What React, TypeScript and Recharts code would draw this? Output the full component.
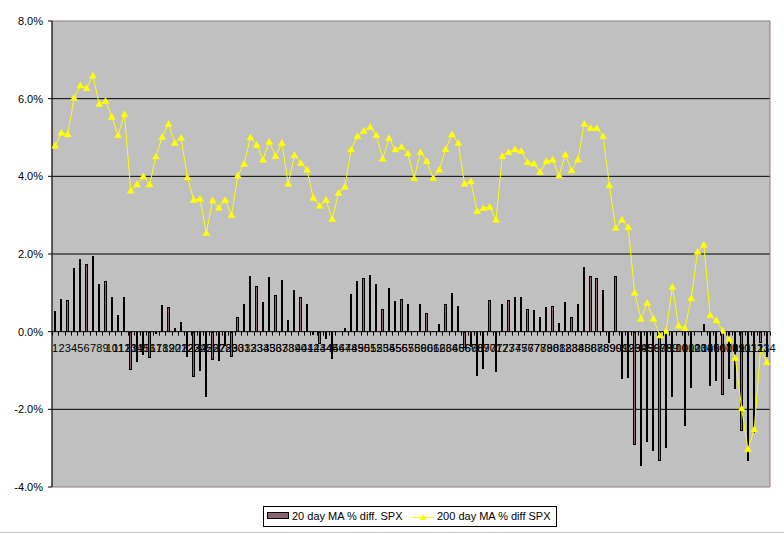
import React from "react";
import {
  ComposedChart,
  Bar,
  Line,
  XAxis,
  YAxis,
  CartesianGrid,
  ReferenceLine,
  ReferenceArea,
} from "recharts";

const categories = Array.from({ length: 114 }, (_, i) => String(i + 1));

const ma20 = [
  0.54, 0.85, 0.82, 1.65, 1.88, 1.73, 1.96, 1.24, 1.31, 0.88,
  0.44, 0.9, -0.98, -0.79, -0.6, -0.69, -0.05, 0.69, 0.64, 0.1,
  0.26, -0.65, -1.18, -1.0, -1.68, -0.74, -0.76, -0.38, -0.66, 0.39,
  0.72, 1.43, 1.18, 0.77, 1.42, 0.95, 1.34, 0.31, 1.08, 0.9,
  0.7, -0.08, -0.31, -0.19, -0.7, -0.04, 0.1, 0.98, 1.31, 1.39,
  1.47, 1.24, 0.58, 1.13, 0.8, 0.85, 0.72, 0.02, 0.72, 0.49,
  0.03, 0.21, 0.7, 1.0, 0.67, -0.41, -0.4, -1.15, -0.96, 0.82,
  -1.05, 0.7, 0.82, 0.9, 0.88, 0.59, 0.57, 0.37, 0.64, 0.67,
  0.23, 0.77, 0.37, 0.7, 1.66, 1.43, 1.39, 1.08, -0.29, 1.44,
  -1.22, -1.2, -2.93, -3.46, -2.84, -3.07, -3.33, -2.99, -1.68, -0.02,
  -2.42, -1.44, 0.0, 0.21, -1.4, -1.27, -1.62, -1.21, -1.47, -2.55,
  -3.32, -2.6, -0.3, -0.64,
];

const ma200 = [
  4.79, 5.12, 5.08, 6.02, 6.34, 6.27, 6.59, 5.86, 5.94, 5.53,
  5.06, 5.6, 3.63, 3.79, 4.0, 3.79, 4.51, 5.01, 5.35, 4.86,
  4.99, 3.97, 3.39, 3.42, 2.54, 3.38, 3.19, 3.39, 3.0, 4.02,
  4.32, 5.0, 4.81, 4.43, 4.89, 4.52, 4.86, 3.81, 4.54, 4.34,
  4.17, 3.44, 3.24, 3.39, 2.9, 3.57, 3.73, 4.69, 5.03, 5.17,
  5.27, 5.06, 4.45, 4.98, 4.69, 4.76, 4.59, 3.95, 4.62, 4.39,
  3.95, 4.17, 4.7, 5.08, 4.86, 3.81, 3.87, 3.1, 3.18, 3.21,
  2.88, 4.52, 4.62, 4.69, 4.65, 4.36, 4.33, 4.11, 4.39, 4.43,
  4.02, 4.56, 4.15, 4.43, 5.35, 5.24, 5.24, 5.03, 3.77, 2.67,
  2.88, 2.69, 1.0, 0.33, 0.74, 0.33, -0.1, 0.01, 1.15, 0.15,
  0.09, 0.86, 2.05, 2.24, 0.42, 0.29, 0.02, -0.19, -0.68, -1.98,
  -3.03, -2.52, -0.45, -0.79,
];

const yTicks = [-4, -2, 0, 2, 4, 6, 8];
const innerGrid = [-2, 2, 4, 6];

const data = categories.map((name, i) => ({
  name,
  ma20: ma20[i],
  ma200: ma200[i],
}));

const MAROON = "#8B6272";
const YELLOW = "#FFFF00";
const PLOT_LEFT = 52;
const PLOT_RIGHT = 770;
const PLOT_TOP = 21;
const PLOT_BOTTOM = 487;
const ZERO_Y = PLOT_TOP + ((PLOT_BOTTOM - PLOT_TOP) * 8) / 12;
const BAND = (PLOT_RIGHT - PLOT_LEFT) / categories.length;
const FONT = '"Liberation Sans", Arial, sans-serif';

// x labels sit on the zero line, like Excel does
function XTick(props: any) {
  const { x, payload, index } = props;
  const left = Math.round(x - BAND / 2) + 0.5;
  const right = Math.round(x + BAND / 2) + 0.5;
  return (
    <g>
      <line x1={left} x2={left} y1={ZERO_Y} y2={ZERO_Y + 4} stroke="#000" />
      {index === categories.length - 1 && (
        <line x1={right} x2={right} y1={ZERO_Y} y2={ZERO_Y + 4} stroke="#000" />
      )}
      <text
        x={x}
        y={ZERO_Y + 20}
        textAnchor="middle"
        fontSize={11}
        fontFamily={FONT}
        fill="#000"
      >
        {payload.value}
      </text>
    </g>
  );
}

function BarShape(props: any) {
  const { x, y, width, height } = props;
  if (x == null || y == null) return <g />;
  const c = x + width / 2;
  const L = Math.round(c - 1.15);
  const R = Math.round(c + 1.15);
  const top = Math.round(Math.min(y, y + height));
  const bot = Math.round(Math.max(y, y + height));
  if (bot - top < 1) return <g />;
  if (R - L >= 3) {
    return (
      <rect
        x={L + 0.5}
        y={top + 0.5}
        width={R - L - 1}
        height={Math.max(bot - top - 1, 0)}
        fill={MAROON}
        stroke="#000"
        strokeWidth={1}
      />
    );
  }
  return <rect x={L} y={top} width={R - L} height={bot - top} fill="#000" />;
}

function TriangleDot(props: any) {
  const { cx, cy, index } = props;
  if (cx == null || cy == null) return <g key={index} />;
  return (
    <polygon
      key={index}
      points={`${cx},${cy - 3.5} ${cx - 3.5},${cy + 2.5} ${cx + 3.5},${cy + 2.5}`}
      fill={YELLOW}
      stroke={YELLOW}
      strokeWidth={0.5}
    />
  );
}

function LegendBox() {
  return (
    <svg
      width={784}
      height={534}
      style={{ position: "absolute", left: 0, top: 0, pointerEvents: "none" }}
    >
      <rect x={263.5} y={506.5} width={293} height={20} fill="#fff" stroke="#000" />
      <rect x={267.5} y={512.5} width={21} height={6} fill={MAROON} stroke="#000" />
      <text x={292} y={520} fontSize={11} fontFamily={FONT} fill="#000">
        20 day MA % diff. SPX
      </text>
      <line x1={412} x2={434} y1={517.5} y2={517.5} stroke={YELLOW} />
      <polygon points="423,514 419.5,520 426.5,520" fill={YELLOW} />
      <text x={437} y={520} fontSize={11} fontFamily={FONT} fill="#000">
        200 day MA % diff SPX
      </text>
      <line x1={0} x2={784} y1={532.5} y2={532.5} stroke="#C8C8C8" />
    </svg>
  );
}

export default function App() {
  return (
    <div
      style={{
        position: "absolute",
        left: 0,
        top: 0,
        width: 784,
        height: 534,
        background: "#fff",
        fontFamily: FONT,
      }}
    >
      <ComposedChart
        width={784}
        height={534}
        data={data}
        margin={{ top: PLOT_TOP, right: 784 - PLOT_RIGHT, bottom: 0, left: 0 }}
      >
        <CartesianGrid
          vertical={false}
          fill="#C0C0C0"
          stroke="#000"
          strokeOpacity={1}
          horizontalValues={innerGrid}
        />
        <ReferenceArea y1={-4} y2={8} fill="none" fillOpacity={0} stroke="#907880" />
        <XAxis
          dataKey="name"
          interval={0}
          tick={<XTick />}
          tickLine={false}
          axisLine={false}
          height={PLOT_BOTTOM > 0 ? 534 - PLOT_BOTTOM : 47}
        />
        <YAxis
          domain={[-4, 8]}
          ticks={yTicks}
          interval={0}
          width={PLOT_LEFT}
          tickFormatter={(v: number) => `${v.toFixed(1)}%`}
          tick={{ fontSize: 11, fill: "#000", fontFamily: FONT }}
          tickSize={4}
          tickMargin={5}
          axisLine={{ stroke: "#000" }}
          tickLine={{ stroke: "#000" }}
        />
        <Bar
          dataKey="ma20"
          barSize={2}
          shape={BarShape}
          isAnimationActive={false}
        />
        <ReferenceLine y={0} stroke="#000" />
        <Line
          type="linear"
          dataKey="ma200"
          stroke={YELLOW}
          strokeWidth={1}
          dot={TriangleDot}
          activeDot={false}
          isAnimationActive={false}
        />
      </ComposedChart>
      <LegendBox />
    </div>
  );
}
